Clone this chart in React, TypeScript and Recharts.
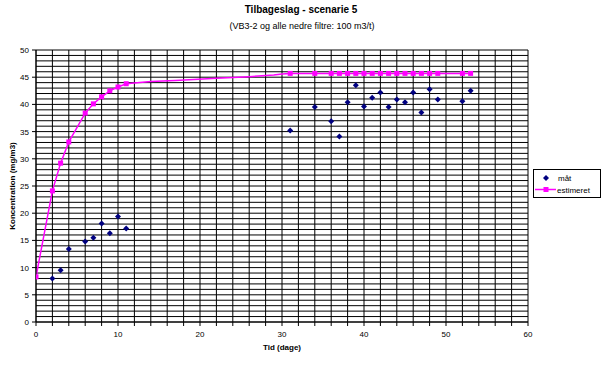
import React from "react";
import {
  ComposedChart,
  Line,
  Scatter,
  XAxis,
  YAxis,
  CartesianGrid,
} from "recharts";

// Measured concentrations (måt)
const measuredDays = [2, 3, 4, 6, 7, 8, 9, 10, 11, 31, 34, 36, 37, 38, 39, 40, 41, 42, 43, 44, 45, 46, 47, 48, 49, 52, 53];
const measuredValues = [8.0, 9.5, 13.4, 14.8, 15.5, 18.1, 16.3, 19.4, 17.2, 35.2, 39.5, 36.9, 34.1, 40.4, 43.5, 39.6, 41.2, 42.2, 39.5, 40.9, 40.4, 42.2, 38.5, 42.8, 40.9, 40.6, 42.5];

// Estimated concentrations (estimeret) – marker points
const estMarkerDays = [0, 2, 3, 4, 6, 7, 8, 9, 10, 11, 31, 34, 36, 37, 38, 39, 40, 41, 42, 43, 44, 45, 46, 47, 48, 49, 52, 53];
const estMarkerValues = [8.3, 24.1, 29.2, 33.1, 38.4, 40.1, 41.4, 42.5, 43.2, 43.8, 45.7, 45.7, 45.7, 45.7, 45.7, 45.7, 45.7, 45.7, 45.7, 45.7, 45.7, 45.7, 45.7, 45.7, 45.7, 45.7, 45.7, 45.7];

// Estimated curve points without markers
const estCurveDays = [14, 17, 22, 26, 29, 30];
const estCurveValues = [44.2, 44.4, 44.8, 45.1, 45.4, 45.6];

const xTicks = [0, 2, 4, 6, 8, 10, 12, 14, 16, 18, 20, 22, 24, 26, 28, 30, 32, 34, 36, 38, 40, 42, 44, 46, 48, 50, 52, 54, 56, 58, 60];
const xLabelTicks = [0, 10, 20, 30, 40, 50, 60];
const yTicks = [0, 1, 2, 3, 4, 5, 6, 7, 8, 9, 10, 11, 12, 13, 14, 15, 16, 17, 18, 19, 20, 21, 22, 23, 24, 25, 26, 27, 28, 29, 30, 31, 32, 33, 34, 35, 36, 37, 38, 39, 40, 41, 42, 43, 44, 45, 46, 47, 48, 49, 50];
const yLabelTicks = [0, 5, 10, 15, 20, 25, 30, 35, 40, 45, 50];

const measuredData = measuredDays.map((d, i) => ({ x: d, y: measuredValues[i] }));
const estMarkerData = estMarkerDays.map((d, i) => ({ x: d, y: estMarkerValues[i] }));
const estLineData = [
  ...estMarkerData,
  ...estCurveDays.map((d, i) => ({ x: d, y: estCurveValues[i] })),
].sort((a, b) => a.x - b.x);

const FONT = "'Liberation Sans', Arial, sans-serif";
const NAVY = "#000080";
const MAGENTA = "#FF00FF";

const Diamond = (props: any) => {
  const { cx, cy } = props;
  if (cx == null || cy == null) return <g />;
  const r = 3;
  return <polygon points={`${cx},${cy - r} ${cx + r},${cy} ${cx},${cy + r} ${cx - r},${cy}`} fill={NAVY} />;
};

const Square = (props: any) => {
  const { cx, cy } = props;
  if (cx == null || cy == null) return <g />;
  const r = 2.5;
  return <rect x={cx - r} y={cy - r} width={2 * r} height={2 * r} fill={MAGENTA} />;
};

const YTick = (props: any) => {
  const { x, y, payload } = props;
  const v = payload.value;
  if (!yLabelTicks.includes(v)) return <g />;
  return (
    <g>
      <line x1={x - 4} x2={x} y1={y} y2={y} stroke="#000" />
      <text x={x - 7} y={y + 3} textAnchor="end" fontSize={8} fontFamily={FONT} fill="#000">
        {v}
      </text>
    </g>
  );
};

const XTick = (props: any) => {
  const { x, y, payload } = props;
  const v = payload.value;
  return (
    <g>
      <line x1={x} x2={x} y1={y} y2={y + 4} stroke="#000" />
      {xLabelTicks.includes(v) ? (
        <text x={x} y={y + 15} textAnchor="middle" fontSize={8} fontFamily={FONT} fill="#000">
          {v}
        </text>
      ) : null}
    </g>
  );
};

const LegendBox = () => (
  <div
    style={{
      position: "absolute",
      left: 533,
      top: 169,
      border: "1px solid #000",
      background: "#fff",
      width: 66,
      height: 27,
    }}
  >
    <svg width={66} height={27} style={{ position: "absolute", left: 0, top: 0 }}>
      <polygon points="12,5 15,8 12,11 9,8" fill={NAVY} />
      <text x={24} y={11} fontSize={8} fontFamily={FONT} fill="#000">måt</text>
      <line x1={1} x2={22} y1={19.5} y2={19.5} stroke={MAGENTA} strokeWidth={1.5} />
      <rect x={9.5} y={17} width={5} height={5} fill={MAGENTA} />
      <text x={23} y={22.5} fontSize={8} fontFamily={FONT} fill="#000">estimeret</text>
    </svg>
  </div>
);

export default function App() {
  return (
    <div style={{ position: "absolute", left: 0, top: 0, width: 604, height: 368, background: "#fff" }}>
      <div
        style={{
          position: "absolute",
          left: 0,
          width: 604,
          top: 4,
          textAlign: "center",
          fontFamily: FONT,
          fontSize: 10,
          fontWeight: "bold",
          color: "#000",
        }}
      >
        <span style={{ marginLeft: -2 }}>Tilbageslag - scenarie 5</span>
      </div>
      <div
        style={{
          position: "absolute",
          left: 0,
          width: 604,
          top: 21,
          textAlign: "center",
          fontFamily: FONT,
          fontSize: 9,
          color: "#000",
        }}
      >
        (VB3-2 og alle nedre filtre: 100 m3/t)
      </div>
      <ComposedChart
        width={604}
        height={368}
        margin={{ top: 50, right: 76, bottom: 26, left: 0 }}
        style={{ position: "absolute", left: 0, top: 0 }}
      >
        <CartesianGrid stroke="#000" strokeWidth={1} />
        <XAxis
          dataKey="x"
          type="number"
          domain={[0, 60]}
          ticks={xTicks}
          interval={0}
          tickLine={false}
          tickSize={0}
          tickMargin={0}
          height={20}
          axisLine={{ stroke: "#000" }}
          tick={<XTick />}
          allowDataOverflow
          label={{
            value: "Tid (dage)",
            position: "insideBottom",
            offset: -8,
            style: { fontFamily: FONT, fontSize: 8, fontWeight: "bold", fill: "#000" },
          }}
        />
        <YAxis
          dataKey="y"
          type="number"
          domain={[0, 50]}
          ticks={yTicks}
          interval={0}
          tickLine={false}
          tickSize={0}
          tickMargin={0}
          width={36}
          axisLine={{ stroke: "#000" }}
          tick={<YTick />}
          allowDataOverflow
          label={{
            value: "Koncentration (mg/m3)",
            angle: -90,
            position: "insideLeft",
            offset: 12,
            style: { fontFamily: FONT, fontSize: 8, fontWeight: "bold", fill: "#000", textAnchor: "middle" },
          }}
        />
        <Line
          data={estLineData}
          dataKey="y"
          type="linear"
          stroke={MAGENTA}
          strokeWidth={1.5}
          dot={false}
          activeDot={false}
          isAnimationActive={false}
          name="estimeret"
        />
        <Scatter data={estMarkerData} dataKey="y" shape={<Square />} isAnimationActive={false} name="estimeret-markers" />
        <Scatter data={measuredData} dataKey="y" shape={<Diamond />} isAnimationActive={false} name="måt" />
      </ComposedChart>
      <LegendBox />
    </div>
  );
}
